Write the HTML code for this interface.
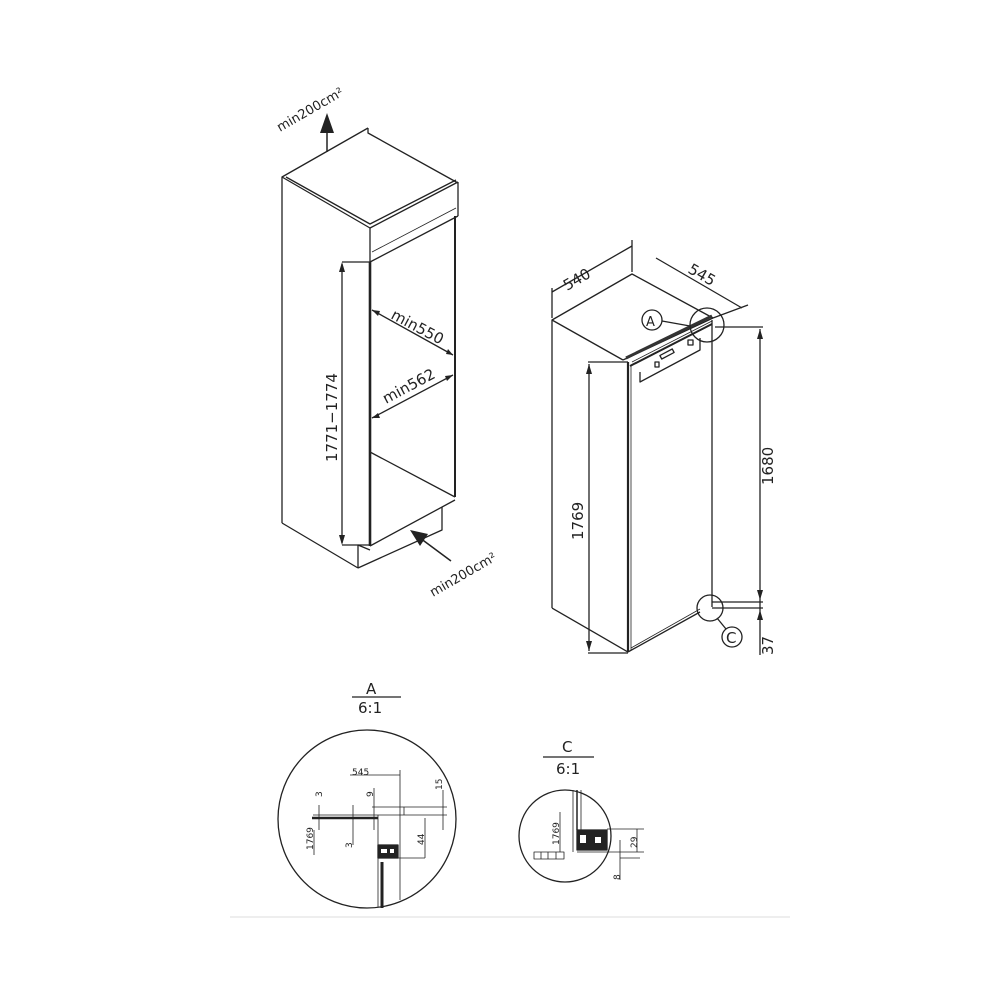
<!DOCTYPE html>
<html><head><meta charset="utf-8"><style>
html,body{margin:0;padding:0;background:#fff;width:1000px;height:1000px;overflow:hidden}
svg{display:block}
text{font-family:"DejaVu Sans","Liberation Sans",sans-serif;fill:#222}
</style></head><body>
<svg width="1000" height="1000" viewBox="0 0 1000 1000" xmlns="http://www.w3.org/2000/svg">
<g stroke="#222" stroke-width="1.3" fill="none" stroke-linejoin="round">
<polyline points="282,523 282,177 368,128"/>
<polyline points="368,128 368,133 458,183"/>
<polyline points="282,177 370,228 458,182"/>
<polyline points="286,177 370,224 456,180"/>
<line x1="458" y1="182" x2="458" y2="216"/>
<line x1="370" y1="228" x2="370" y2="262"/>
<line x1="370" y1="262" x2="458" y2="216"/>
<line x1="372" y1="252" x2="456" y2="208" stroke-width="0.8"/>
<line x1="370" y1="262" x2="370" y2="546" stroke-width="2.6"/>
<line x1="455" y1="216" x2="455" y2="497" stroke-width="2"/>
<line x1="370" y1="546" x2="455" y2="500"/>
<line x1="370" y1="452" x2="455" y2="497"/>
<line x1="282" y1="523" x2="358" y2="568"/>
<polyline points="358,568 358,545 370,550"/>
<polyline points="358,568 442,530 442,507"/>
<line x1="342" y1="262" x2="370" y2="262"/>
<line x1="342" y1="545" x2="370" y2="545"/>
<line x1="342" y1="264" x2="342" y2="543"/>
<line x1="372" y1="310" x2="453" y2="355"/>
<line x1="372" y1="418" x2="453" y2="375"/>
<line x1="327" y1="152" x2="327" y2="125" stroke-width="1.5"/>
<line x1="451" y1="561" x2="420" y2="538" stroke-width="1.5"/>

<polyline points="552,608 552,320 632,274 713,318"/>
<line x1="552" y1="608" x2="628" y2="652"/>
<polyline points="552,320 623,360"/>
<line x1="623" y1="360" x2="713" y2="318"/>
<line x1="626" y1="358" x2="712" y2="316" stroke-width="3" stroke="#333"/>
<line x1="630" y1="366" x2="712" y2="324" stroke-width="2"/>
<line x1="632" y1="362" x2="712" y2="321" stroke-width="0.8"/>
<line x1="628" y1="362" x2="628" y2="652" stroke-width="2.2"/>
<line x1="631" y1="365" x2="631" y2="650" stroke-width="0.8"/>
<line x1="712" y1="320" x2="712" y2="607"/>
<line x1="628" y1="652" x2="700" y2="612"/>
<line x1="631" y1="648" x2="700" y2="609" stroke-width="0.8"/>
<polyline points="640,372 640,382 700,350 700,338"/>
<rect x="660" y="352" width="14" height="4" transform="rotate(-28 667 354)"/>
<rect x="655" y="362" width="4" height="5"/>
<rect x="688" y="340" width="5" height="5"/>
<line x1="552" y1="318" x2="552" y2="288"/>
<line x1="632" y1="272" x2="632" y2="240"/>
<line x1="552" y1="292" x2="632" y2="246"/>
<line x1="656" y1="258" x2="742" y2="308"/>
<line x1="713" y1="318" x2="748" y2="305"/>
<line x1="588" y1="362" x2="628" y2="362"/>
<line x1="588" y1="653" x2="628" y2="653"/>
<line x1="589" y1="364" x2="589" y2="651"/>
<line x1="715" y1="327" x2="763" y2="327"/>
<line x1="712" y1="602" x2="763" y2="602"/>
<line x1="712" y1="608" x2="763" y2="608"/>
<line x1="760" y1="329" x2="760" y2="655"/>
<circle cx="707" cy="325" r="17"/>
<circle cx="710" cy="608" r="13"/>
<circle cx="652" cy="320" r="10"/>
<line x1="662" y1="321" x2="690" y2="326"/>
<circle cx="732" cy="637" r="10"/>
<line x1="717" y1="618" x2="726" y2="629"/>

<line x1="352" y1="697" x2="401" y2="697"/>
<circle cx="367" cy="819" r="89"/>
<line x1="350" y1="775" x2="400" y2="775" stroke-width="0.8"/>
<line x1="400" y1="770" x2="400" y2="900" stroke-width="0.8"/>
<line x1="313" y1="815" x2="447" y2="815" stroke-width="0.8"/>
<line x1="372" y1="807" x2="447" y2="807" stroke-width="0.8"/>
<line x1="404" y1="807" x2="404" y2="815" stroke-width="0.8"/>
<line x1="312" y1="818" x2="378" y2="818" stroke-width="2.5"/>
<line x1="378" y1="815" x2="378" y2="907" stroke-width="0.8"/>
<rect x="378" y="845" width="20" height="13" fill="#222"/>
<rect x="381" y="849" width="6" height="4" fill="#fff" stroke="none"/>
<rect x="390" y="849" width="4" height="4" fill="#fff" stroke="none"/>
<line x1="382" y1="862" x2="382" y2="908" stroke-width="3"/>
<line x1="394" y1="858" x2="425" y2="858" stroke-width="0.8"/>
<line x1="425" y1="818" x2="425" y2="858" stroke-width="0.8"/>
<line x1="443" y1="790" x2="443" y2="830" stroke-width="0.8"/>
<line x1="319" y1="805" x2="319" y2="830" stroke-width="0.8"/>
<line x1="314" y1="830" x2="314" y2="855" stroke-width="0.8"/>
<line x1="353" y1="805" x2="353" y2="845" stroke-width="0.8"/>
<line x1="374" y1="788" x2="374" y2="830" stroke-width="0.8"/>

<line x1="543" y1="757" x2="594" y2="757"/>
<circle cx="565" cy="836" r="46"/>
<line x1="573" y1="790" x2="573" y2="852" stroke-width="0.8"/>
<line x1="577" y1="790" x2="577" y2="830" stroke-width="1.5"/>
<line x1="581" y1="790" x2="581" y2="830" stroke-width="0.8"/>
<rect x="577" y="830" width="30" height="20" fill="#222"/>
<rect x="580" y="835" width="6" height="8" fill="#fff" stroke="none"/>
<rect x="595" y="837" width="6" height="6" fill="#fff" stroke="none"/>
<line x1="607" y1="829" x2="644" y2="829" stroke-width="0.8"/>
<line x1="577" y1="852" x2="644" y2="852" stroke-width="0.8"/>
<line x1="620" y1="858" x2="640" y2="858" stroke-width="0.8"/>
<line x1="637" y1="829" x2="637" y2="852" stroke-width="0.8"/>
<line x1="620" y1="840" x2="620" y2="880" stroke-width="0.8"/>
<rect x="534" y="852" width="30" height="7" stroke-width="0.8"/>
<line x1="541" y1="852" x2="541" y2="859" stroke-width="0.8"/>
<line x1="548" y1="852" x2="548" y2="859" stroke-width="0.8"/>
<line x1="556" y1="852" x2="556" y2="859" stroke-width="0.8"/>
<line x1="560" y1="812" x2="560" y2="852" stroke-width="0.8"/>
<line x1="230" y1="917" x2="790" y2="917" stroke="#ddd" stroke-width="1"/>
</g>
<g fill="#222">
<polygon points="327,113 320,133 334,133"/>
<polygon points="410,530 428,534 420,546"/>
<polygon points="342,262 339,272 345,272"/>
<polygon points="342,545 339,535 345,535"/>
<polygon points="372,310 380,311 378,316"/>
<polygon points="453,355 446,354 448,349"/>
<polygon points="372,418 378,413 380,418"/>
<polygon points="453,375 447,381 445,376"/>
<polygon points="589,364 586,374 592,374"/>
<polygon points="589,651 586,641 592,641"/>
<polygon points="760,329 757,339 763,339"/>
<polygon points="760,600 757,590 763,590"/>
<polygon points="760,610 757,620 763,620"/>
</g>
<g font-size="14">
<text transform="translate(280,132) rotate(-30)" font-size="13" fill="#333">min200cm²</text>
<text transform="translate(433,597) rotate(-30)" font-size="13" fill="#333">min200cm²</text>
<text transform="translate(337,462) rotate(-90)" font-size="15">1771−1774</text>
<text transform="translate(390,318) rotate(28)" font-size="15">min550</text>
<text transform="translate(386,404) rotate(-28)" font-size="15">min562</text>
<text transform="translate(567,291) rotate(-30)" font-size="15">540</text>
<text transform="translate(687,272) rotate(30)" font-size="15">545</text>
<text transform="translate(583,540) rotate(-90)" font-size="15">1769</text>
<text transform="translate(773,485) rotate(-90)" font-size="15">1680</text>
<text transform="translate(773,655) rotate(-90)" font-size="15">37</text>
<text x="646" y="326" font-size="13">A</text>
<text x="726" y="643" font-size="15">C</text>
<text x="366" y="694" font-size="15">A</text>
<text x="358" y="713" font-size="15">6:1</text>
<text x="562" y="752" font-size="15">C</text>
<text x="556" y="774" font-size="15">6:1</text>
<g font-size="9">
<text x="352" y="775">545</text>
<text transform="translate(322,797) rotate(-90)">3</text>
<text transform="translate(373,797) rotate(-90)">9</text>
<text transform="translate(442,790) rotate(-90)">15</text>
<text transform="translate(313,850) rotate(-90)">1769</text>
<text transform="translate(352,848) rotate(-90)">3</text>
<text transform="translate(424,845) rotate(-90)">44</text>
<text transform="translate(559,845) rotate(-90)">1769</text>
<text transform="translate(637,848) rotate(-90)">29</text>
<text transform="translate(620,880) rotate(-90)">8</text>
</g>
</g>
</svg>
</body></html>
